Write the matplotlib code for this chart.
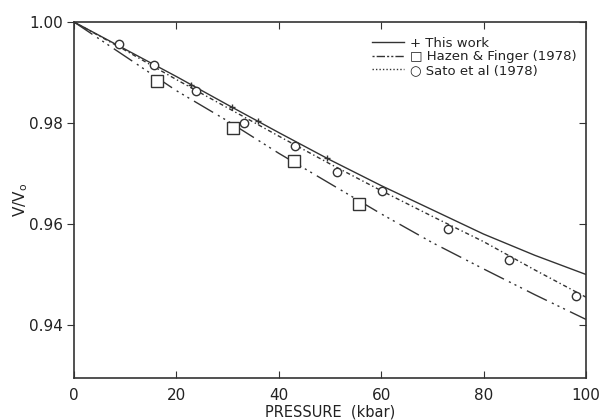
import matplotlib
matplotlib.use("Agg")
import matplotlib.pyplot as plt
from matplotlib.lines import Line2D

# Curves
p_curve = [0, 10, 20, 30, 40, 50, 60, 70, 80, 90, 100]
v_this_work = [1.0, 0.9946, 0.9892, 0.9836, 0.9781, 0.9727, 0.9676, 0.9628, 0.9580, 0.9538, 0.9500]
v_hazen_curve = [1.0, 0.9932, 0.9864, 0.9804, 0.9740, 0.9680, 0.9620, 0.9563, 0.9511, 0.9460, 0.9411]
v_sato_curve = [1.0, 0.9944, 0.9886, 0.9830, 0.9774, 0.9719, 0.9666, 0.9615, 0.9565, 0.9509, 0.9455]

# Data points
p_this = [22.8, 30.8, 36.0, 49.5]
v_this = [0.9876, 0.9832, 0.9804, 0.9730]
p_hazen = [16.2, 31.1, 43.0, 55.7]
v_hazen = [0.9884, 0.9791, 0.9725, 0.9639]
p_sato = [8.85, 15.6, 23.8, 33.2, 43.2, 51.3, 60.1, 73.1, 85.0, 98.0]
v_sato = [0.9956, 0.9914, 0.9864, 0.9800, 0.9755, 0.9702, 0.9666, 0.9590, 0.9529, 0.9458]

x_ticks = [0, 20, 40, 60, 80, 100]
y_ticks = [0.94, 0.96, 0.98, 1.00]
y_ticklabels = ["0.94", "0.96", "0.98", "1.00"]

col = "#333333"
hazen_ls = (0, (16, 4, 1.5, 3, 1.5, 3, 1.5, 4))
sato_ls = (0, (3, 2, 1, 2))

fig = plt.figure(figsize=(6.05, 4.2), dpi=100)
ax = fig.add_axes([74 / 605, 1 - 378 / 420, 512 / 605, 356 / 420])

ax.plot(p_curve, v_this_work, color=col, lw=1.0, ls="-")
ax.plot(p_curve, v_hazen_curve, color=col, lw=1.0, ls=hazen_ls)
ax.plot(p_curve, v_sato_curve, color=col, lw=1.0, ls=sato_ls)

ax.plot(p_this, v_this, ls="none", marker="+", ms=4, mew=1.0, color=col)
ax.plot(p_hazen, v_hazen, ls="none", marker="s", ms=8, mfc="white", mec=col, mew=1.0)
ax.plot(p_sato, v_sato, ls="none", marker="o", ms=6, mfc="white", mec=col, mew=1.0)

ax.set_xlim(0, 100)
ax.set_ylim(0.9295, 1.0)
ax.set_xticks(x_ticks)
ax.set_xticklabels([str(t) for t in x_ticks])
ax.set_yticks(y_ticks)
ax.set_yticklabels(y_ticklabels)

for s in ax.spines.values():
    s.set_color(col)
    s.set_linewidth(1.2)

ax.tick_params(axis="x", direction="in", top=True, length=5, width=0.8,
               colors=col, labelsize=11, labelcolor="#222222", pad=7)
ax.tick_params(axis="y", direction="out", left=True, length=5, width=0.8,
               colors=col, labelsize=11, labelcolor="#222222", pad=3)
# right-side inward ticks
ax_r = ax.secondary_yaxis("right")
ax_r.set_yticks(y_ticks)
ax_r.tick_params(direction="in", length=5, width=0.8, colors=col, labelright=False)
ax_r.spines["right"].set_visible(False)

ax.set_xlabel("PRESSURE  (kbar)", fontsize=10.5, color="#222222", labelpad=1)
ax.set_ylabel("V/V$_\\mathregular{o}$", fontsize=11, color="#222222", labelpad=-1)

handles = [
    Line2D([], [], color=col, lw=1.0, ls="-"),
    Line2D([], [], color=col, lw=1.0, ls=(0, (1.5, 1.5, 6, 1.5, 1.5, 1.5))),
    Line2D([], [], color=col, lw=1.0, ls=(0, (1, 1.5))),
]
labels = ["+ This work", "\u25a1 Hazen & Finger (1978)", "\u25cb Sato et al (1978)"]
leg = ax.legend(handles, labels, loc="upper right", frameon=False, fontsize=9.5,
                handlelength=2.4, handletextpad=0.5, labelspacing=0.05,
                bbox_to_anchor=(1.0, 0.985), borderaxespad=0.3)
for t in leg.get_texts():
    t.set_color("#222222")

fig.savefig("out.png", dpi=100)
